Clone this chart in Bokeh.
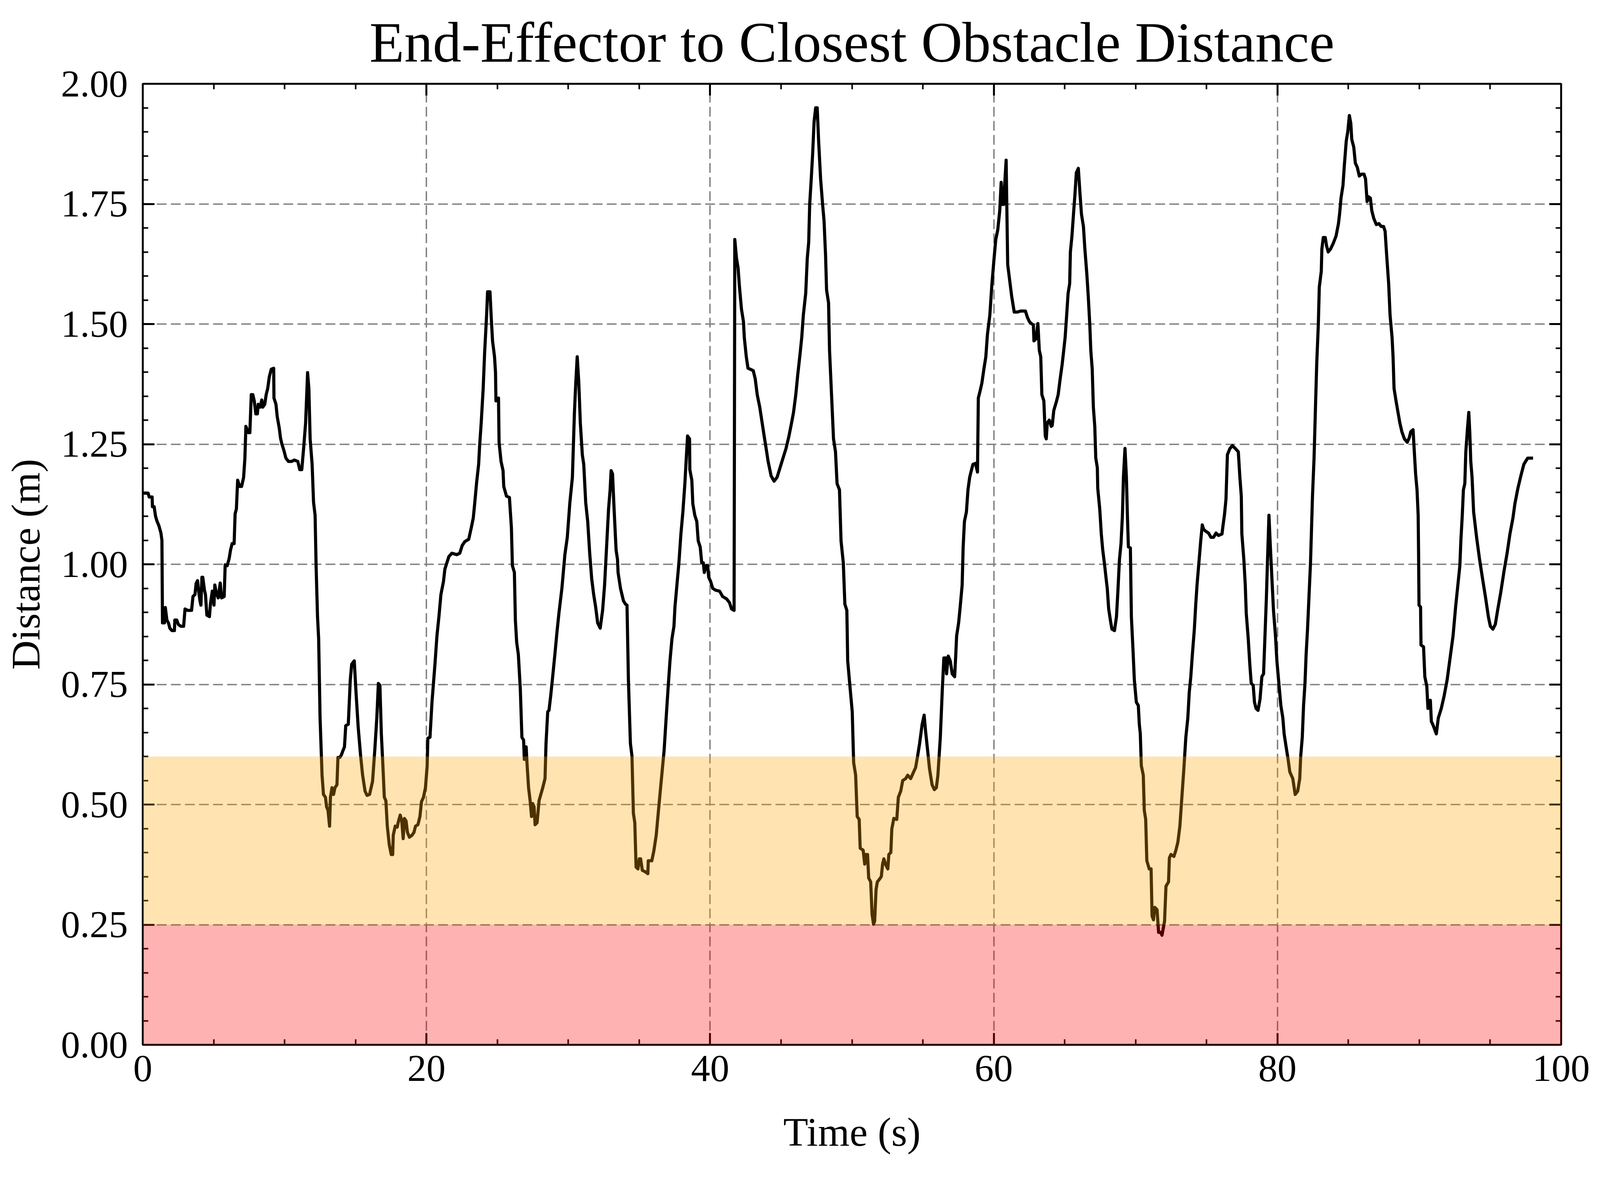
from bokeh.plotting import figure
from bokeh.models import (Range1d, SingleIntervalTicker, LinearAxis, BoxAnnotation,
                          PrintfTickFormatter)
from bokeh.embed import file_html
from bokeh.resources import INLINE

# ---------------- data ----------------
time_s = [
    0.00, 0.38, 0.45, 0.66, 0.68, 0.80, 0.90, 1.00, 1.14, 1.28, 1.35, 1.39, 1.53, 1.59, 1.70, 1.81,
    1.91, 2.05, 2.23, 2.26, 2.40, 2.50, 2.68, 2.88, 2.98, 3.16, 3.44, 3.54, 3.68, 3.76, 3.86, 3.97,
    4.04, 4.10, 4.17, 4.23, 4.35, 4.42, 4.52, 4.70, 4.77, 4.90, 5.02, 5.08, 5.18, 5.32, 5.46, 5.56,
    5.74, 5.81, 5.95, 6.09, 6.19, 6.30, 6.44, 6.51, 6.60, 6.69, 6.83, 6.97, 7.11, 7.20, 7.27, 7.44,
    7.55, 7.65, 7.76, 7.86, 7.97, 8.08, 8.14, 8.28, 8.39, 8.46, 8.60, 8.70, 8.81, 8.92, 9.06, 9.23,
    9.25, 9.39, 9.48, 9.62, 9.71, 9.81, 9.95, 10.09, 10.27, 10.48, 10.69, 10.93, 11.07, 11.21, 11.34, 11.48,
    11.62, 11.71, 11.80, 11.94, 12.04, 12.15, 12.22, 12.32, 12.40, 12.50, 12.64, 12.74, 12.88, 12.96, 13.06, 13.17,
    13.23, 13.34, 13.45, 13.55, 13.69, 13.76, 13.90, 14.00, 14.10, 14.22, 14.31, 14.49, 14.63, 14.73, 14.91, 15.05,
    15.19, 15.36, 15.50, 15.67, 15.81, 15.99, 16.20, 16.36, 16.50, 16.61, 16.72, 16.82, 16.92, 17.03, 17.14, 17.24,
    17.38, 17.52, 17.62, 17.66, 17.80, 17.94, 18.00, 18.15, 18.26, 18.36, 18.45, 18.56, 18.66, 18.80, 18.98, 19.12,
    19.23, 19.40, 19.54, 19.65, 19.79, 19.93, 20.05, 20.10, 20.25, 20.39, 20.60, 20.74, 20.88, 21.02, 21.20, 21.30,
    21.44, 21.58, 21.79, 22.14, 22.35, 22.52, 22.70, 22.98, 23.16, 23.30, 23.40, 23.54, 23.68, 23.75, 23.86, 24.00,
    24.10, 24.24, 24.31, 24.48, 24.56, 24.66, 24.80, 24.87, 24.90, 25.08, 25.12, 25.26, 25.40, 25.45, 25.64, 25.85,
    25.99, 26.06, 26.20, 26.27, 26.36, 26.48, 26.62, 26.73, 26.85, 26.90, 27.03, 27.10, 27.20, 27.31, 27.41, 27.49,
    27.59, 27.66, 27.80, 27.94, 28.20, 28.36, 28.43, 28.55, 28.64, 28.76, 28.92, 29.06, 29.20, 29.34, 29.55, 29.76,
    29.93, 30.11, 30.29, 30.43, 30.53, 30.63, 30.74, 30.85, 30.99, 31.09, 31.23, 31.37, 31.51, 31.65, 31.79, 31.93,
    32.07, 32.25, 32.42, 32.56, 32.70, 32.84, 32.95, 33.02, 33.12, 33.23, 33.37, 33.47, 33.51, 33.68, 33.89, 34.03,
    34.14, 34.24, 34.38, 34.49, 34.59, 34.69, 34.78, 34.91, 35.01, 35.10, 35.22, 35.43, 35.61, 35.64, 35.89, 36.03,
    36.20, 36.36, 36.55, 36.76, 36.90, 37.03, 37.17, 37.31, 37.45, 37.52, 37.66, 37.80, 37.94, 38.08, 38.22, 38.32,
    38.41, 38.55, 38.57, 38.71, 38.78, 38.92, 39.06, 39.16, 39.30, 39.41, 39.52, 39.59, 39.72, 39.83, 39.90, 40.04,
    40.18, 40.39, 40.67, 40.88, 41.16, 41.37, 41.51, 41.69, 41.74, 41.86, 41.97, 42.07, 42.21, 42.35, 42.41, 42.55,
    42.67, 42.83, 43.04, 43.18, 43.32, 43.50, 43.67, 43.81, 43.95, 44.09, 44.30, 44.51, 44.72, 44.93, 45.14, 45.35,
    45.56, 45.74, 45.88, 46.04, 46.18, 46.32, 46.46, 46.57, 46.74, 46.85, 46.95, 47.02, 47.13, 47.23, 47.33, 47.44,
    47.55, 47.65, 47.79, 47.93, 48.03, 48.14, 48.21, 48.35, 48.42, 48.56, 48.70, 48.84, 48.95, 49.12, 49.23, 49.39,
    49.50, 49.64, 49.70, 49.88, 50.02, 50.12, 50.26, 50.37, 50.51, 50.58, 50.79, 50.90, 50.96, 51.10, 51.18, 51.32,
    51.42, 51.52, 51.60, 51.70, 51.79, 51.90, 52.07, 52.16, 52.25, 52.39, 52.53, 52.60, 52.74, 52.81, 52.95, 53.16,
    53.27, 53.44, 53.58, 53.79, 53.93, 54.14, 54.35, 54.49, 54.63, 54.77, 54.95, 55.09, 55.19, 55.33, 55.47, 55.65,
    55.81, 55.95, 56.06, 56.23, 56.37, 56.48, 56.62, 56.67, 56.79, 56.93, 57.07, 57.24, 57.32, 57.38, 57.52, 57.63,
    57.77, 57.84, 57.93, 58.07, 58.18, 58.30, 58.39, 58.53, 58.71, 58.85, 58.91, 59.02, 59.16, 59.30, 59.44, 59.55,
    59.72, 59.86, 60.00, 60.14, 60.28, 60.42, 60.52, 60.60, 60.70, 60.77, 60.87, 60.98, 61.12, 61.26, 61.44, 61.68,
    61.88, 62.23, 62.37, 62.51, 62.65, 62.79, 62.83, 62.97, 63.11, 63.21, 63.31, 63.39, 63.53, 63.63, 63.70, 63.77,
    63.91, 64.05, 64.12, 64.23, 64.40, 64.54, 64.68, 64.82, 64.93, 65.03, 65.12, 65.24, 65.35, 65.40, 65.51, 65.62,
    65.72, 65.82, 65.96, 66.07, 66.18, 66.32, 66.42, 66.56, 66.66, 66.77, 66.84, 66.94, 67.02, 67.12, 67.19, 67.30,
    67.33, 67.47, 67.58, 67.68, 67.82, 67.92, 68.00, 68.10, 68.24, 68.33, 68.51, 68.65, 68.75, 68.86, 68.97, 69.07,
    69.14, 69.25, 69.35, 69.42, 69.49, 69.63, 69.70, 69.81, 69.91, 70.05, 70.19, 70.26, 70.33, 70.40, 70.54, 70.61,
    70.71, 70.79, 70.96, 71.09, 71.16, 71.26, 71.35, 71.51, 71.62, 71.76, 71.86, 72.04, 72.14, 72.32, 72.38, 72.49,
    72.70, 72.84, 72.98, 73.12, 73.26, 73.40, 73.54, 73.68, 73.78, 73.89, 74.00, 74.14, 74.24, 74.33, 74.48, 74.59,
    74.70, 74.79, 74.93, 75.14, 75.31, 75.49, 75.67, 75.84, 76.09, 76.15, 76.26, 76.37, 76.47, 76.65, 76.82, 77.03,
    77.24, 77.35, 77.45, 77.49, 77.63, 77.73, 77.80, 77.94, 78.05, 78.15, 78.29, 78.38, 78.49, 78.63, 78.77, 78.90,
    79.02, 79.12, 79.22, 79.30, 79.40, 79.50, 79.61, 79.72, 79.86, 79.96, 80.10, 80.24, 80.38, 80.47, 80.61, 80.75,
    80.87, 81.08, 81.25, 81.43, 81.57, 81.64, 81.75, 81.84, 81.94, 82.02, 82.12, 82.22, 82.33, 82.47, 82.58, 82.68,
    82.77, 82.88, 82.95, 83.09, 83.13, 83.23, 83.37, 83.46, 83.58, 83.74, 83.92, 84.13, 84.30, 84.38, 84.48, 84.62,
    84.71, 84.85, 84.96, 85.07, 85.17, 85.24, 85.38, 85.49, 85.63, 85.77, 85.93, 86.10, 86.21, 86.32, 86.42, 86.55,
    86.65, 86.79, 86.97, 87.15, 87.32, 87.48, 87.59, 87.70, 87.84, 87.94, 88.08, 88.15, 88.22, 88.36, 88.50, 88.63,
    88.77, 88.95, 89.15, 89.29, 89.40, 89.56, 89.65, 89.74, 89.84, 89.92, 89.95, 89.98, 90.09, 90.12, 90.30, 90.39,
    90.53, 90.61, 90.78, 90.85, 90.99, 91.20, 91.34, 91.55, 91.75, 91.96, 92.17, 92.38, 92.56, 92.72, 92.86, 92.93,
    93.03, 93.11, 93.21, 93.28, 93.39, 93.49, 93.56, 93.63, 93.72, 93.83, 94.04, 94.25, 94.46, 94.67, 94.87, 95.01,
    95.19, 95.36, 95.52, 95.74, 95.98, 96.19, 96.39, 96.60, 96.74, 96.95, 97.16, 97.37, 97.64, 98.02,
]

distance_m = [
    1.148, 1.148, 1.140, 1.140, 1.120, 1.120, 1.100, 1.090, 1.080, 1.065, 1.050, 0.878, 0.878, 0.910, 0.884, 0.878,
    0.867, 0.862, 0.862, 0.884, 0.884, 0.875, 0.871, 0.871, 0.907, 0.904, 0.904, 0.933, 0.937, 0.960, 0.966, 0.937,
    0.923, 0.915, 0.973, 0.973, 0.946, 0.937, 0.894, 0.891, 0.917, 0.944, 0.915, 0.957, 0.941, 0.930, 0.961, 0.930,
    0.933, 0.999, 0.997, 1.012, 1.030, 1.043, 1.043, 1.105, 1.115, 1.175, 1.162, 1.162, 1.181, 1.221, 1.287, 1.274,
    1.274, 1.353, 1.353, 1.340, 1.313, 1.313, 1.333, 1.327, 1.342, 1.327, 1.333, 1.353, 1.366, 1.390, 1.406, 1.408,
    1.346, 1.333, 1.307, 1.284, 1.263, 1.250, 1.237, 1.221, 1.214, 1.214, 1.217, 1.214, 1.197, 1.197, 1.241, 1.294,
    1.399, 1.366, 1.261, 1.208, 1.129, 1.102, 0.997, 0.891, 0.845, 0.680, 0.561, 0.521, 0.515, 0.495, 0.488, 0.455,
    0.515, 0.535, 0.521, 0.535, 0.541, 0.598, 0.598, 0.603, 0.611, 0.620, 0.664, 0.667, 0.759, 0.792, 0.799, 0.726,
    0.660, 0.601, 0.561, 0.528, 0.519, 0.521, 0.548, 0.614, 0.680, 0.752, 0.748, 0.647, 0.587, 0.515, 0.508, 0.455,
    0.416, 0.396, 0.396, 0.436, 0.455, 0.453, 0.462, 0.478, 0.466, 0.429, 0.471, 0.466, 0.442, 0.432, 0.436, 0.442,
    0.455, 0.458, 0.475, 0.506, 0.515, 0.535, 0.580, 0.638, 0.640, 0.713, 0.792, 0.851, 0.891, 0.937, 0.964, 0.990,
    1.003, 1.016, 1.023, 1.020, 1.023, 1.039, 1.047, 1.052, 1.076, 1.096, 1.126, 1.171, 1.208, 1.247, 1.294, 1.366,
    1.439, 1.518, 1.567, 1.567, 1.518, 1.465, 1.432, 1.399, 1.340, 1.346, 1.254, 1.214, 1.195, 1.162, 1.142, 1.139,
    1.076, 0.997, 0.983, 0.884, 0.838, 0.812, 0.739, 0.640, 0.634, 0.594, 0.620, 0.581, 0.535, 0.508, 0.475, 0.502,
    0.495, 0.458, 0.462, 0.508, 0.535, 0.554, 0.627, 0.693, 0.696, 0.726, 0.772, 0.814, 0.858, 0.898, 0.950, 1.020,
    1.056, 1.128, 1.181, 1.313, 1.379, 1.432, 1.379, 1.294, 1.228, 1.208, 1.128, 1.089, 1.023, 0.970, 0.937, 0.911,
    0.878, 0.867, 0.904, 0.957, 1.036, 1.115, 1.155, 1.195, 1.188, 1.115, 1.030, 1.010, 0.983, 0.950, 0.924, 0.917,
    0.915, 0.759, 0.627, 0.601, 0.482, 0.462, 0.370, 0.366, 0.387, 0.387, 0.363, 0.360, 0.356, 0.383, 0.383, 0.403,
    0.436, 0.488, 0.548, 0.614, 0.680, 0.739, 0.799, 0.845, 0.871, 0.911, 0.957, 1.003, 1.063, 1.109, 1.168, 1.221,
    1.267, 1.261, 1.197, 1.175, 1.126, 1.102, 1.089, 1.049, 1.036, 1.003, 1.003, 0.983, 0.997, 0.997, 0.973, 0.964,
    0.950, 0.946, 0.944, 0.933, 0.928, 0.920, 0.907, 0.904, 1.676, 1.637, 1.617, 1.577, 1.531, 1.505, 1.472, 1.432,
    1.408, 1.406, 1.403, 1.386, 1.353, 1.327, 1.294, 1.267, 1.241, 1.214, 1.184, 1.173, 1.181, 1.201, 1.221, 1.241,
    1.267, 1.294, 1.316, 1.353, 1.395, 1.432, 1.472, 1.518, 1.564, 1.637, 1.670, 1.749, 1.802, 1.855, 1.921, 1.950,
    1.950, 1.881, 1.802, 1.749, 1.716, 1.643, 1.571, 1.544, 1.445, 1.353, 1.261, 1.234, 1.168, 1.155, 1.049, 1.003,
    0.917, 0.904, 0.799, 0.739, 0.693, 0.587, 0.561, 0.475, 0.469, 0.409, 0.405, 0.376, 0.396, 0.396, 0.347, 0.339,
    0.271, 0.251, 0.257, 0.323, 0.339, 0.343, 0.350, 0.376, 0.387, 0.374, 0.366, 0.396, 0.400, 0.449, 0.471, 0.469,
    0.515, 0.528, 0.550, 0.554, 0.561, 0.554, 0.568, 0.577, 0.601, 0.627, 0.667, 0.686, 0.653, 0.614, 0.574, 0.541,
    0.531, 0.535, 0.561, 0.640, 0.739, 0.805, 0.805, 0.772, 0.809, 0.799, 0.772, 0.766, 0.812, 0.851, 0.878, 0.911,
    0.957, 1.036, 1.089, 1.109, 1.155, 1.181, 1.192, 1.208, 1.210, 1.192, 1.346, 1.359, 1.377, 1.406, 1.432, 1.478,
    1.518, 1.580, 1.630, 1.676, 1.696, 1.736, 1.795, 1.749, 1.749, 1.791, 1.841, 1.624, 1.591, 1.558, 1.525, 1.525,
    1.527, 1.527, 1.514, 1.505, 1.501, 1.498, 1.465, 1.469, 1.501, 1.445, 1.432, 1.353, 1.340, 1.267, 1.261, 1.294,
    1.300, 1.287, 1.289, 1.320, 1.337, 1.353, 1.386, 1.416, 1.445, 1.472, 1.511, 1.564, 1.584, 1.650, 1.683, 1.729,
    1.769, 1.815, 1.824, 1.775, 1.729, 1.703, 1.657, 1.604, 1.558, 1.498, 1.445, 1.406, 1.327, 1.287, 1.221, 1.201,
    1.158, 1.115, 1.063, 1.030, 0.997, 0.970, 0.950, 0.907, 0.880, 0.865, 0.862, 0.891, 0.944, 1.010, 1.043, 1.102,
    1.181, 1.241, 1.181, 1.102, 1.036, 1.034, 0.891, 0.825, 0.759, 0.713, 0.706, 0.667, 0.647, 0.581, 0.561, 0.488,
    0.469, 0.383, 0.366, 0.366, 0.268, 0.260, 0.286, 0.281, 0.234, 0.234, 0.228, 0.257, 0.330, 0.339, 0.389, 0.396,
    0.392, 0.405, 0.422, 0.455, 0.515, 0.574, 0.640, 0.680, 0.733, 0.766, 0.812, 0.865, 0.917, 0.957, 1.010, 1.049,
    1.082, 1.073, 1.069, 1.065, 1.056, 1.056, 1.065, 1.060, 1.063, 1.078, 1.102, 1.135, 1.228, 1.241, 1.247, 1.241,
    1.234, 1.181, 1.142, 1.063, 1.010, 0.957, 0.898, 0.845, 0.792, 0.752, 0.748, 0.713, 0.700, 0.696, 0.719, 0.766,
    0.772, 0.851, 0.931, 1.010, 1.102, 1.036, 0.970, 0.904, 0.851, 0.799, 0.752, 0.706, 0.680, 0.647, 0.620, 0.594,
    0.568, 0.554, 0.521, 0.528, 0.554, 0.601, 0.640, 0.706, 0.752, 0.812, 0.865, 0.931, 1.003, 1.142, 1.221, 1.327,
    1.419, 1.498, 1.577, 1.610, 1.656, 1.680, 1.680, 1.663, 1.650, 1.656, 1.667, 1.683, 1.709, 1.729, 1.762, 1.789,
    1.828, 1.881, 1.901, 1.934, 1.918, 1.884, 1.868, 1.835, 1.826, 1.808, 1.812, 1.812, 1.802, 1.755, 1.765, 1.762,
    1.736, 1.720, 1.707, 1.709, 1.703, 1.703, 1.693, 1.643, 1.584, 1.518, 1.472, 1.432, 1.366, 1.340, 1.316, 1.294,
    1.276, 1.261, 1.254, 1.263, 1.276, 1.280, 1.234, 1.188, 1.155, 1.102, 1.023, 0.915, 0.911, 0.832, 0.828, 0.766,
    0.746, 0.700, 0.717, 0.673, 0.664, 0.647, 0.680, 0.700, 0.726, 0.759, 0.805, 0.851, 0.911, 0.957, 0.997, 1.049,
    1.102, 1.155, 1.168, 1.234, 1.280, 1.316, 1.274, 1.214, 1.181, 1.109, 1.056, 1.010, 0.970, 0.931, 0.891, 0.871,
    0.865, 0.875, 0.904, 0.941, 0.987, 1.023, 1.063, 1.096, 1.126, 1.158, 1.184, 1.208, 1.221, 1.221,
]

danger_zone = [0.0, 0.25]     # red band (m)
warning_zone = [0.25, 0.60]   # orange band (m)
x_limits = [0, 100]
y_limits = [0, 2]

title_text = "End-Effector to Closest Obstacle Distance"
x_label = "Time (s)"
y_label = "Distance (m)"

# ---------------- figure ----------------
FONT = "Liberation Serif"
p = figure(width=4078, height=2997, output_backend="svg", toolbar_location=None,
           x_range=Range1d(*x_limits), y_range=Range1d(*y_limits),
           min_border_left=365, min_border_right=82, min_border_top=210, min_border_bottom=323,
           background_fill_color="white", border_fill_color="white")

p.outline_line_color = "black"
p.outline_line_width = 5

xt = SingleIntervalTicker(interval=20, num_minor_ticks=4)
yt = SingleIntervalTicker(interval=0.25, num_minor_ticks=5)

def style_axis(ax, ticker):
    ax.ticker = ticker
    ax.axis_line_color = "black"
    ax.axis_line_width = 5
    ax.major_tick_line_color = "black"
    ax.major_tick_line_width = 5
    ax.major_tick_in = 30
    ax.major_tick_out = 0
    ax.minor_tick_line_color = "black"
    ax.minor_tick_line_width = 4
    ax.minor_tick_in = 14
    ax.minor_tick_out = 0
    ax.major_label_text_font = FONT
    ax.major_label_text_font_size = "98px"
    ax.major_label_text_color = "black"
    ax.axis_label_text_font = FONT
    ax.axis_label_text_font_size = "104px"
    ax.axis_label_text_font_style = "normal"
    ax.axis_label_text_color = "black"

xa = p.xaxis[0]
ya = p.yaxis[0]
style_axis(xa, xt)
style_axis(ya, yt)
xa.axis_label = x_label
ya.axis_label = y_label
ya.formatter = PrintfTickFormatter(format="%.2f")
xa.major_label_standoff = 28
ya.major_label_standoff = 38
xa.axis_label_standoff = 70
ya.axis_label_standoff = 30

top = LinearAxis()
right = LinearAxis()
style_axis(top, SingleIntervalTicker(interval=20, num_minor_ticks=4))
style_axis(right, SingleIntervalTicker(interval=0.25, num_minor_ticks=5))
for ax in (top, right):
    ax.major_label_text_font_size = "0px"
    ax.major_label_standoff = 0
    ax.major_label_text_alpha = 0
p.add_layout(top, "above")
p.add_layout(right, "right")

for g, t in ((p.xgrid, xt), (p.ygrid, yt)):
    g.ticker = t
    g.grid_line_color = "#808080"
    g.grid_line_width = 3.6
    g.grid_line_dash = "25 11"

p.title.text = title_text
p.title.align = "center"
p.title.text_font = FONT
p.title.text_font_size = "146px"
p.title.text_font_style = "normal"
p.title.text_color = "black"
p.title.standoff = 50

p.add_layout(BoxAnnotation(bottom=warning_zone[0], top=warning_zone[1], fill_color="orange",
                           fill_alpha=0.3, line_color=None))
p.add_layout(BoxAnnotation(bottom=danger_zone[0], top=danger_zone[1], fill_color="red",
                           fill_alpha=0.3, line_color=None))

p.line(time_s, distance_m, line_color="black", line_width=8, line_join="round")

open("out.html", "w").write(file_html(p, INLINE))
